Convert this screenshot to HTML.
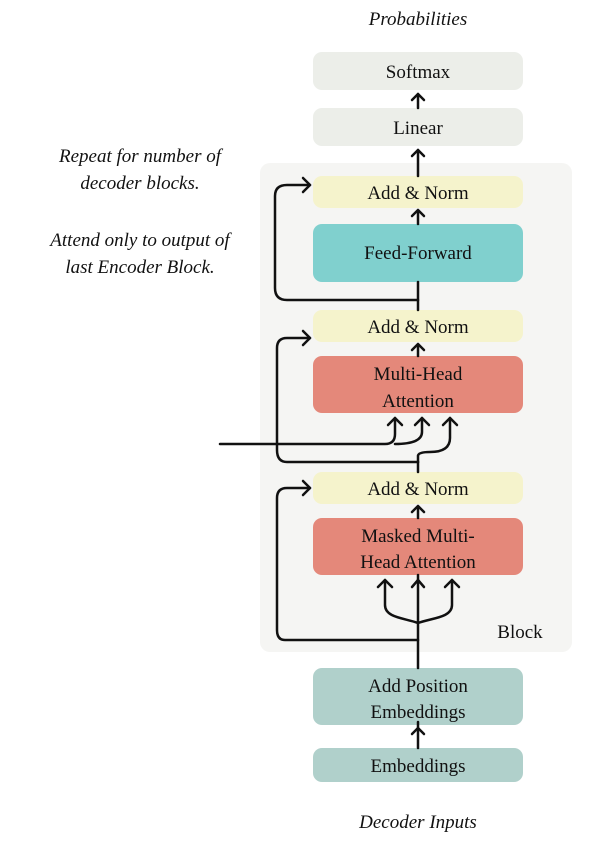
<!DOCTYPE html>
<html><head><style>
body{margin:0;background:#fff;width:596px;height:846px;overflow:hidden;font-family:"Liberation Serif",serif;}
</style></head><body>
<svg width="596" height="846" xmlns="http://www.w3.org/2000/svg" font-family="Liberation Serif, serif">
<rect x="260" y="163" width="312" height="489" rx="10" fill="#f5f5f3"/>
<g font-size="19" fill="#111" text-anchor="middle">
<rect x="313" y="52" width="210" height="38" rx="9" fill="#eceee9"/><text x="418" y="78">Softmax</text>
<rect x="313" y="108" width="210" height="38" rx="9" fill="#eceee9"/><text x="418" y="134">Linear</text>
<rect x="313" y="176" width="210" height="32" rx="9" fill="#f5f3cc"/><text x="418" y="199">Add &amp; Norm</text>
<rect x="313" y="224" width="210" height="58" rx="9" fill="#80d0ce"/><text x="418" y="259">Feed-Forward</text>
<rect x="313" y="310" width="210" height="32" rx="9" fill="#f5f3cc"/><text x="418" y="333">Add &amp; Norm</text>
<rect x="313" y="356" width="210" height="57" rx="9" fill="#e4887a"/><text x="418" y="380">Multi-Head</text><text x="418" y="407">Attention</text>
<rect x="313" y="472" width="210" height="32" rx="9" fill="#f5f3cc"/><text x="418" y="495">Add &amp; Norm</text>
<rect x="313" y="518" width="210" height="57" rx="9" fill="#e4887a"/><text x="418" y="542">Masked Multi-</text><text x="418" y="568">Head Attention</text>
<rect x="313" y="668" width="210" height="57" rx="9" fill="#b0d0cb"/><text x="418" y="692">Add Position</text><text x="418" y="718">Embeddings</text>
<rect x="313" y="748" width="210" height="34" rx="9" fill="#b0d0cb"/><text x="418" y="772">Embeddings</text>
<text x="520" y="638">Block</text>
</g>
<g font-size="19" font-style="italic" fill="#111" text-anchor="middle">
<text x="418" y="25">Probabilities</text>
<text x="418" y="828">Decoder Inputs</text>
<text x="140" y="162">Repeat  for number of</text>
<text x="140" y="189">decoder blocks.</text>
<text x="140" y="246">Attend only to output of</text>
<text x="140" y="273">last Encoder Block.</text>
</g>
<g stroke="#111" stroke-width="2.5" fill="none" stroke-linecap="round" stroke-linejoin="round">
<path d="M418 748 V722"/><path d="M412 734 L418 728 L424 734"/>
<path d="M418 668 V575"/>
<path d="M418 518 V508"/><path d="M412 512 L418 506 L424 512"/>
<path d="M418 472 V462"/>
<path d="M418 356 V346"/><path d="M412 350 L418 344 L424 350"/>
<path d="M418 310 V282"/>
<path d="M418 224 V212"/><path d="M412 216 L418 210 L424 216"/>
<path d="M418 176 V150"/><path d="M412 156 L418 150 L424 156"/>
<path d="M418 108 V94"/><path d="M412 100 L418 94 L424 100"/>
<path d="M418 623 C405 618 385 618 385 605 V580"/><path d="M378 587 L385 580 L392 587"/>
<path d="M418 623 C431 618 452 618 452 605 V580"/><path d="M445 587 L452 580 L459 587"/>
<path d="M412 587 L418 580 L424 587"/>
<path d="M418 640 H285 Q277 640 277 630 V498 Q277 488 287 488 H310"/><path d="M303 481 L310 488 L303 495"/>
<path d="M220 444 H385 Q395 444 395 434 V418"/><path d="M388 425 L395 418 L402 425"/>
<path d="M395 444 Q422 444 422 432 V418"/><path d="M415 425 L422 418 L429 425"/>
<path d="M418 462 V456 Q418 452 430 452 Q450 452 450 438 V418"/><path d="M443 425 L450 418 L457 425"/>
<path d="M418 462 H287 Q277 462 277 450 V348 Q277 338 287 338 H310"/><path d="M303 331 L310 338 L303 345"/>
<path d="M418 300 H287 Q275 300 275 288 V196 Q275 185 287 185 H310"/><path d="M303 178 L310 185 L303 192"/>
</g>
</svg>
</body></html>
